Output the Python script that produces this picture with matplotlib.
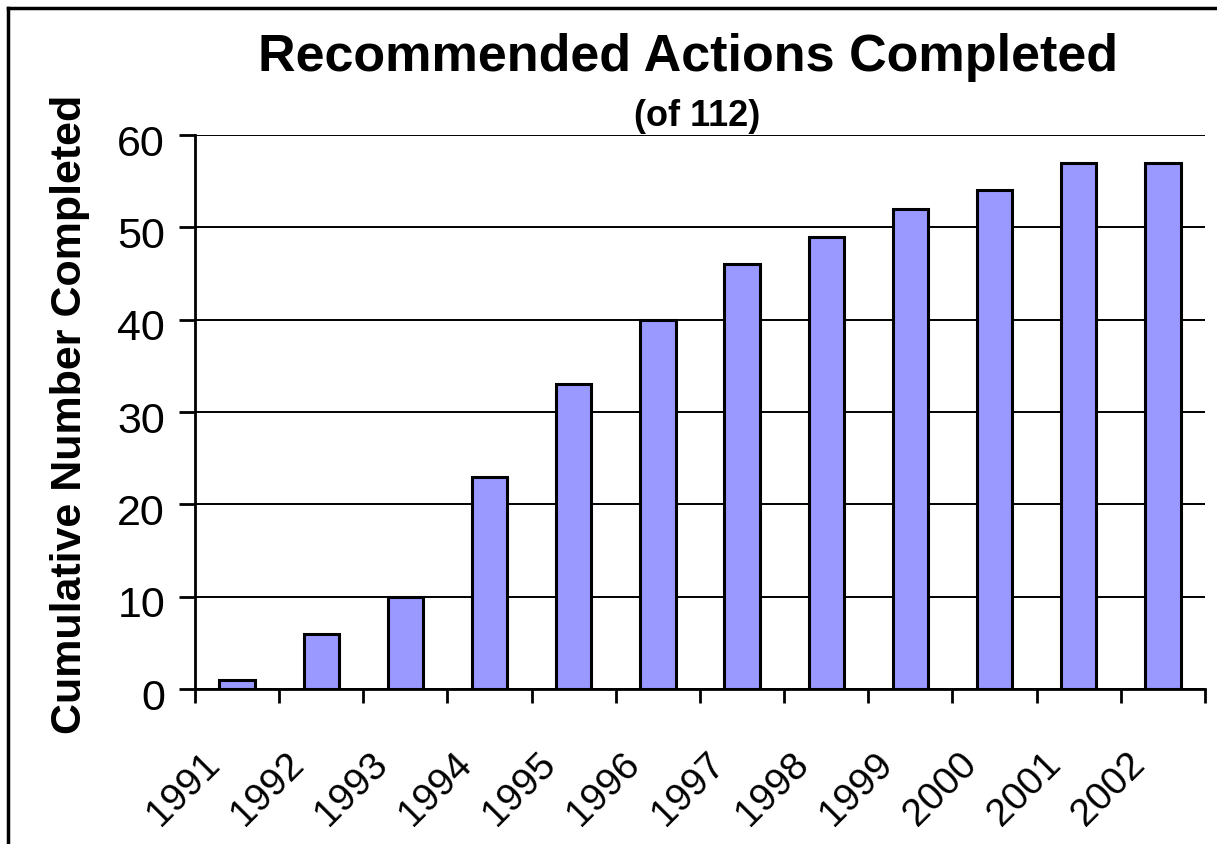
import numpy as np
import matplotlib.pyplot as plt
from matplotlib.lines import Line2D
from matplotlib.transforms import ScaledTranslation

years = ["1991", "1992", "1993", "1994", "1995", "1996",
         "1997", "1998", "1999", "2000", "2001", "2002"]
completed = [1, 6, 10, 23, 33, 40, 46, 49, 52, 54, 57, 57]

plt.rcParams["font.family"] = ["Liberation Sans", "DejaVu Sans"]

fig = plt.figure(figsize=(12.17, 8.44), dpi=100)
ax = fig.add_axes([0.1602, 0.1836, 0.8299, 0.6564])

x = np.arange(len(years))
ax.bar(x, completed, width=0.42, color="#9999ff", edgecolor="black",
       linewidth=2.2, zorder=3)

ax.set_xlim(-0.5, len(years) - 0.5)
ax.set_ylim(0, 60)
ax.set_yticks(np.arange(0, 61, 10))
ax.yaxis.grid(True, color="black", linewidth=1.4, zorder=0)

# category boundaries get the tick marks, centres get the labels
ax.set_xticks(np.arange(-0.5, len(years), 1.0))
ax.set_xticklabels([])
ax.set_xticks(x, minor=True)
ax.set_xticklabels(years, minor=True, rotation=45, ha="right",
                   rotation_mode="anchor", fontsize=28)
ax.tick_params(axis="x", which="major", length=10, width=2, direction="out")
ax.tick_params(axis="x", which="minor", length=0, pad=41)
ax.tick_params(axis="y", length=11.5, width=2, labelsize=31, pad=10)

shift_x = ScaledTranslation(-36 / 100, 0, fig.dpi_scale_trans)
for lbl in ax.get_xticklabels(minor=True):
    lbl.set_transform(lbl.get_transform() + shift_x)
shift_y = ScaledTranslation(0, -5 / 100, fig.dpi_scale_trans)
for lbl in ax.get_yticklabels():
    lbl.set_transform(lbl.get_transform() + shift_y)

for s in ["top", "right"]:
    ax.spines[s].set_visible(False)
ax.spines["left"].set_linewidth(2)
ax.spines["bottom"].set_linewidth(2)

ax.set_ylabel("Cumulative Number Completed", fontsize=31, fontweight="bold")
ax.yaxis.set_label_coords(-0.104, 0.495)

fig.text(0.565, 1 - 57 / 844, "Recommended Actions Completed", ha="center",
         va="center", fontsize=37.5, fontweight="bold")
fig.text(0.573, 1 - 116 / 844, "(of 112)", ha="center",
         va="center", fontsize=26, fontweight="bold")

# outer chart frame (left and top edges visible)
fig.add_artist(Line2D([8 / 1217, 8 / 1217], [0, 1 - 8 / 844],
                      color="black", linewidth=2.5))
fig.add_artist(Line2D([8 / 1217, 1], [1 - 8 / 844, 1 - 8 / 844],
                      color="black", linewidth=2.5))

fig.savefig("out.png", dpi=100)
plt.close()
